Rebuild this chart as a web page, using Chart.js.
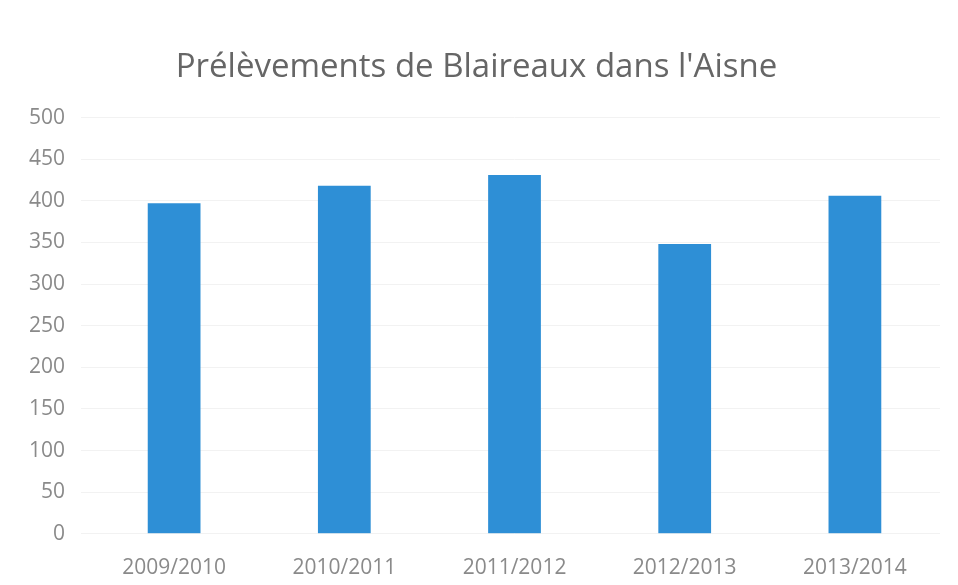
<!DOCTYPE html>
<html>
<head>
<meta charset="utf-8">
<script src="https://cdn.jsdelivr.net/npm/chart.js@4/dist/chart.umd.min.js"></script>
<style>
  html, body { margin: 0; padding: 0; background: #fff; }
  #wrap { width: 958px; height: 585px; position: relative; }
</style>
</head>
<body>
<div id="wrap"><canvas id="chart" width="958" height="585"></canvas></div>
<script>
  const seasons = ["2009/2010", "2010/2011", "2011/2012", "2012/2013", "2013/2014"];
  const blaireaux = [397, 418, 431, 348, 406];
  const yMin = 0;
  const yMax = 500;
  const yStep = 50;

  const textGrey = "#8a8a8a";
  const barBlue = "#2e8fd6";

  const ctx = document.getElementById("chart").getContext("2d");
  new Chart(ctx, {
    type: "bar",
    data: {
      labels: seasons,
      datasets: [
        {
          label: "Prélèvements",
          data: blaireaux,
          backgroundColor: barBlue,
          borderWidth: 0,
          categoryPercentage: 1,
          barPercentage: 0.31,
        },
      ],
    },
    options: {
      responsive: false,
      animation: false,
      layout: { padding: { left: 13, right: 18, top: 48, bottom: -10 } },
      plugins: {
        legend: { display: false },
        tooltip: { enabled: false },
        title: {
          display: true,
          text: "Prélèvements de Blaireaux dans l'Aisne",
          color: "#666666",
          font: { family: "'Open Sans', sans-serif", size: 33, weight: "normal" },
          padding: { top: 0, bottom: 30 },
        },
      },
      scales: {
        x: {
          grid: { display: false },
          border: { display: false },
          ticks: {
            color: textGrey,
            font: { family: "'Open Sans', sans-serif", size: 21 },
            padding: 14,
          },
        },
        y: {
          min: yMin,
          max: yMax,
          grid: { color: "#f2f2f2", lineWidth: 1 },
          border: { display: false },
          ticks: {
            stepSize: yStep,
            color: textGrey,
            font: { family: "'Open Sans', sans-serif", size: 21 },
            padding: 16,
          },
        },
      },
    },
  });
</script>
</body>
</html>
